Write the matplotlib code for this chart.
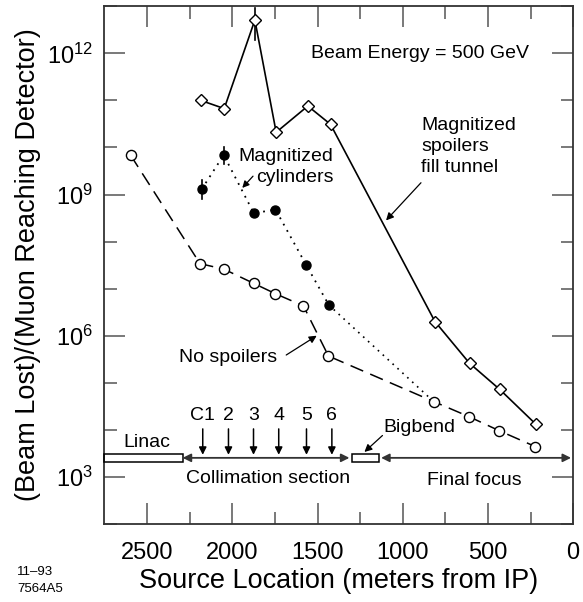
import matplotlib
matplotlib.use("Agg")
import matplotlib.pyplot as plt
from matplotlib.patches import Rectangle
import numpy as np

plt.rcParams['font.family'] = ['Liberation Sans', 'DejaVu Sans']
plt.rcParams['mathtext.fontset'] = 'custom'
plt.rcParams['mathtext.rm'] = 'Liberation Sans'
plt.rcParams['mathtext.it'] = 'Liberation Sans'

# --- data ---
spoil_x = [2186, 2048, 1868, 1743, 1557, 1424, 811, 608, 430, 217]
spoil_y = [1.0e11, 6.7e10, 5.1e12, 2.1e10, 7.6e10, 3.1e10, 2.0e6, 2.6e5, 7.2e4, 1.3e4]

none_x = [2597, 2190, 2050, 1876, 1747, 1583, 1436, 819, 610, 434, 221]
none_y = [6.8e9, 3.4e7, 2.6e7, 1.3e7, 7.8e6, 4.3e6, 3.7e5, 4.0e4, 1.9e4, 9.6e3, 4.4e3]

cyl_x = [2180, 2051, 1874, 1747, 1567, 1434]
cyl_y = [1.3e9, 6.9e9, 4.0e8, 4.8e8, 3.2e7, 4.5e6]
cyl_tail_x = [1434, 819]
cyl_tail_y = [4.5e6, 4.0e4]

coll_x = [2174, 2023, 1876, 1728, 1565, 1416]
coll_labels = ['C1', '2', '3', '4', '5', '6']

xticks = [2500, 2000, 1500, 1000, 500, 0]
xminor = [2250, 1750, 1250, 750, 250]
yticks = [1e3, 1e6, 1e9, 1e12]
ylabels = ['$10^{3}$', '$10^{6}$', '$10^{9}$', '$10^{12}$']
yminor = [1e2, 1e4, 1e5, 1e7, 1e8, 1e10, 1e11, 1e13]

fig = plt.figure(figsize=(5.83, 6.02), dpi=100)
ax = fig.add_axes([0.178, 0.1296, 0.805, 0.860])
ax.set_yscale('log')
ax.set_xlim(2755, 0)
ax.set_ylim(1e2, 1e13)

lw = 1.1
# dotted cylinders
ax.plot(cyl_x, cyl_y, linestyle=(0, (1, 3)), color='black', lw=1.3, zorder=2)
ax.plot(cyl_tail_x, cyl_tail_y, linestyle=(0, (1, 3)), color='black', lw=1.2, zorder=2)
ax.plot(cyl_x, cyl_y, 'o', color='black', ms=6.5, zorder=4)
# error bars for cylinders
ax.plot([2180, 2180], [0.8e9, 2.0e9], color='black', lw=1.2, zorder=3)
ax.plot([2051, 2051], [4.5e9, 1.0e10], color='black', lw=1.2, zorder=3)

# dashed no spoilers
ax.plot(none_x, none_y, linestyle=(0, (9, 5)), color='black', lw=lw, zorder=2,
        marker='o', mfc='white', mec='black', ms=7.3, mew=1.0)

# solid magnetized spoilers
ax.plot(spoil_x, spoil_y, '-', color='black', lw=1.2, zorder=2,
        marker='D', mfc='white', mec='black', ms=6.3, mew=1.0)
ax.plot([1868, 1868], [1.9e12, 9.0e12], color='black', lw=1.2, zorder=1)
ax.plot([2186, 2186], [0.8e11, 1.25e11], color='black', lw=1.2, zorder=1)

# ticks
ax.set_xticks(xticks)
ax.set_xticklabels([str(v) for v in xticks])
ax.set_xticks(xminor, minor=True)
ax.set_yticks(yticks)
ax.set_yticklabels(ylabels)
ax.set_yticks(yminor, minor=True)
ax.yaxis.set_minor_formatter(matplotlib.ticker.NullFormatter())
ax.tick_params(which='both', direction='in', top=True, right=True,
               color='#555555', width=1.1)
ax.tick_params(which='major', length=15, labelsize=17)
ax.tick_params(which='minor', length=9)
ax.tick_params(axis='x', which='major', pad=13)
ax.tick_params(axis='y', which='major', pad=8)
for s in ax.spines.values():
    s.set_linewidth(1.3)
    s.set_color('#333333')

ax.set_xlabel('Source Location (meters from IP)', fontsize=19.5, labelpad=3)
ax.set_ylabel('(Beam Lost)/(Muon Reaching Detector)', fontsize=19.5, labelpad=4)

fs = 14
# Linac / Bigbend boxes
ly0, ly1 = 10**3.32, 10**3.49
ymid = 10**3.405
ax.add_patch(Rectangle((2292, ly0), 2755 - 2292, ly1 - ly0, fill=False,
                       ec='black', lw=1.1, zorder=3, clip_on=False))
ax.add_patch(Rectangle((1141, ly0), 1297 - 1141, ly1 - ly0, fill=False,
                       ec='black', lw=1.1, zorder=3))
arr = dict(arrowstyle='<|-|>', color='#333333', lw=1.3, mutation_scale=12,
           shrinkA=0, shrinkB=0)
ax.annotate('', xy=(1313, ymid), xytext=(2292, ymid), arrowprops=arr)
ax.annotate('', xy=(12, ymid), xytext=(1127, ymid), arrowprops=arr)

for cx, lab in zip(coll_x, coll_labels):
    ax.annotate('', xy=(cx, 10**3.47), xytext=(cx, 10**4.02),
                arrowprops=dict(arrowstyle='-|>', color='black', lw=1.1,
                                mutation_scale=11, shrinkA=0, shrinkB=0))
    ax.text(cx, 10**4.3, lab, fontsize=fs, ha='center', va='center')

ax.text(2500, 10**3.74, 'Linac', fontsize=fs, ha='center', va='center')
ax.text(1793, 10**2.96, 'Collimation section', fontsize=fs, ha='center', va='center')
ax.text(580, 10**2.93, 'Final focus', fontsize=fs, ha='center', va='center')
ax.text(902, 10**4.04, 'Bigbend', fontsize=fs, ha='center', va='center')
ax.annotate('', xy=(1225, 10**3.53), xytext=(1119, 10**3.88),
            arrowprops=dict(arrowstyle='-|>', color='black', lw=0.9,
                            mutation_scale=11, shrinkA=0, shrinkB=0))

ax.text(898, 1e12, 'Beam Energy = 500 GeV', fontsize=fs, ha='center', va='center')
ax.text(893, 10**10.02, 'Magnitized\nspoilers\nfill tunnel', fontsize=fs,
        ha='left', va='center', linespacing=1.3)
ax.annotate('', xy=(1098, 10**8.45), xytext=(893, 10**9.25),
            arrowprops=dict(arrowstyle='-|>', color='black', lw=0.9,
                            mutation_scale=11, shrinkA=0, shrinkB=0))
ax.text(1407, 10**9.59, 'Magnitized\ncylinders', fontsize=fs,
        ha='right', va='center', linespacing=1.3)
ax.annotate('', xy=(1942, 10**9.14), xytext=(1879, 10**9.39),
            arrowprops=dict(arrowstyle='-|>', color='black', lw=0.9,
                            mutation_scale=10, shrinkA=0, shrinkB=0))
ax.text(2028, 10**5.54, 'No spoilers', fontsize=fs, ha='center', va='center')
ax.annotate('', xy=(1505, 10**6.0), xytext=(1684, 10**5.59),
            arrowprops=dict(arrowstyle='-|>', color='black', lw=0.9,
                            mutation_scale=11, shrinkA=0, shrinkB=0))

fig.text(0.029, 0.036, '11\u201393\n7564A5', fontsize=9.5, ha='left', va='center',
         linespacing=1.6)

fig.savefig('out.png', dpi=100)
